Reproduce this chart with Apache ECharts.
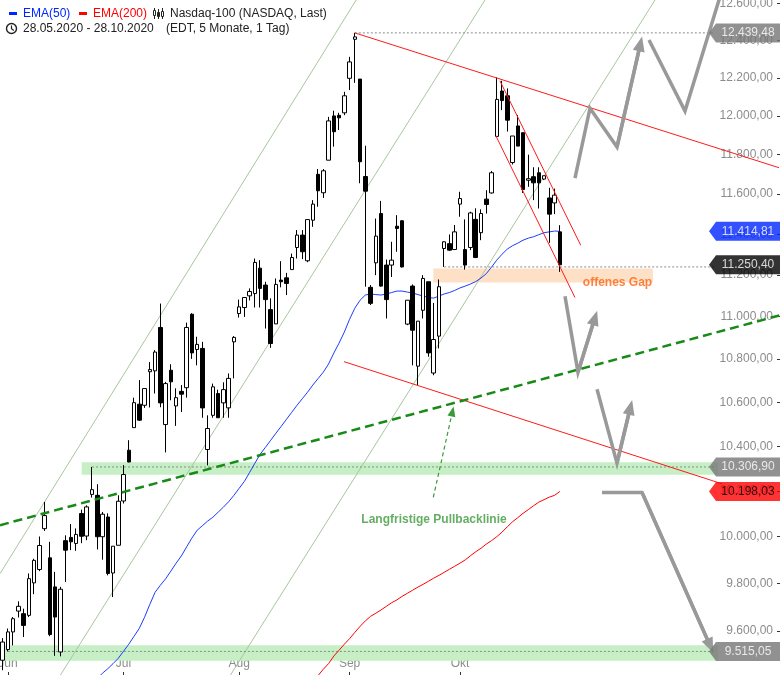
<!DOCTYPE html>
<html><head><meta charset="utf-8">
<script src="https://cdn.jsdelivr.net/npm/echarts@6/dist/echarts.min.js"></script>
<style>html,body{margin:0;padding:0;background:#fff;}#c{width:780px;height:675px;}</style>
</head><body><div id="c"></div>
<script>
// ---------- categories ----------
const startDate = '2020-05-29';
const holidays = ['2020-07-03', '2020-09-07', '2020-11-26', '2020-12-25'];
const totalSlots = 148;
const monthNames = ['Jan','Feb','Mär','Apr','Mai','Jun','Jul','Aug','Sep','Okt','Nov','Dez'];

// ---------- candle values (Nasdaq-100, daily) ----------
const open = [9479,9523,9596,9683,9672,9665,9802,9859,10035,9909,
9785,9513,9983,9997,9971,10101,10003,10185,10181,10000,
10086,9844,9963,10156,10382,10484,10591,10586,10741,10745,
10949,10498,10748,10583,10650,10667,11012,10845,10850,10385,
10540,10640,10597,10574,10881,11015,11044,11100,11111,11234,
11152,11034,10966,11176,11187,11227,11335,11396,11270,11470,
11700,11607,11772,12000,12003,12016,12197,12405,12193,11689,
11141,11260,11503,11249,11249,11440,11467,10965,11147,10767,
11031,11168,10735,10908,11330,11354,11325,11550,11325,11335,
11474,11408,11575,11606,11894,12130,12105,11760,11948,11913,
11670,11688,11708,11676,11581,11556,11412];
const close = [9554,9596,9651,9703,9623,9820,9898,9962,10092,9585,
9658,9775,9942,9978,10010,10002,10130,10206,10000,10098,
9842,9959,10155,10273,10329,10598,10518,10663,10751,10833,
10597,10686,10694,10621,10637,10949,10829,10869,10574,10480,
10671,10529,10658,10710,10902,11047,11092,11121,11262,11136,
11082,10873,11155,11168,11160,11286,11396,11314,11473,11550,
11617,11718,11974,11918,11990,12105,12284,12418,11764,11615,
11064,11391,11147,11082,11273,11429,11240,11079,10936,10979,
11184,10829,10892,11144,11363,11322,11412,11578,11249,11506,
11286,11503,11548,11708,12086,12080,11978,11896,11844,11623,
11678,11657,11657,11693,11500,11595,11250.40];
const high = [9570,9610,9658,9724,9693,9842,9905,10001,10152,9978,
9849,9785,10006,10055,10036,10118,10137,10306.9,10230,10108,
10102,9959,10181,10315,10427,10621,10702,10664,10786,10842,
11063,10694,10776,10664,10679,10972,11017,10905,10881,10540,
10686,10658,10692,10733,10908,11082,11093,11136,11281,11273,
11168,11088,11184,11268,11211,11305,11421,11421,11473,11570,
11727,11727,11995,12027,12016,12126,12311,12439.48,12193,11846,
11152,11478,11566,11276,11363,11495,11470,11079,11155,10979,
11200,11168,11066,11179,11366,11399,11446,11612,11474,11512,
11529,11524,11620,11717,12202,12184,12144,11896,12005,11913,
11800,11736,11736,11693,11632,11628,11445];
const low = [9438,9515.05,9540,9656,9575,9658,9754,9852,10025,9578,
9497,9495,9806,9942,9939,9972,9985,10171,9945,9901,
9834,9742,9963,10145,10328,10484,10515,10574,10576,10640,
10577,10372,10609,10492,10555,10621,10801,10771,10529,10314,
10529,10529,10529,10529,10710,10996,10999,11078,11044,11044,
10944,10853,10966,11141,11104,11227,11281,11278,11263,11437,
11537,11581,11772,11841,11927,12004,12135,12173,11655,11144,
11056,11200,11144,10992,11191,11314,11237,10960,10771,10679,
10992,10811,10725,10850,11240,11318,11325,11487,11227,11322,
11283,11371,11503,11603,11891,12030,11919,11750,11844,11606,
11637,11570,11528,11671,11358,11500,11216];

// ---------- moving averages ----------
const ema50Start = 18;
const ema50 = [9404,9426,9444,9465,9487,9516,9545,9578,9611,9657,9711,9762,9792,9819,9852,9886,9917,9956,9994,10028,
10048,10068,10085,10107,10129,10153,10181,10212,10243,10283,10324,10364,10395,10427,10459,10490,10522,10554,10586,10616,
10646,10679,10709,10739,10777,10828,10875,10927,10988,11041,11079,11104,11109,11106,11104,11109,11116,11123,11123,11118,
11114,11106,11099,11092,11089,11099,11109,11116,11126,11138,11147,11157,11169,11186,11207,11239,11273,11302,11327,11344,
11356,11371,11381,11388,11398,11408,11412,11416,11414.81];
const ema200Start = 60;
const ema200 = [9416,9442,9465,9496,9520,9545,9568,9594,9619,9642,9661,9674,9688,9703,9718,9730,9745,9758,9771,9784,
9796,9809,9822,9834,9847,9860,9873,9886,9900,9918,9935,9950,9968,9983,10000,10020,10043,10065,10083,10102,
10118,10135,10151,10162,10173,10181,10198.03];

// ---------- axis ----------
const yTicks = [9600,9800,10000,10200,10400,10600,10800,11000,11200,11400,11600,11800,12000,12200,12400,12600];
const yMin = 9418.5, yMax = 12618;

// ---------- drawn annotations: [slotIndex, price] ----------
const channelLines = [
  [[-0.5, 9841], [67.26, 12618]],
  [[11.0, 9418.5], [91.76, 12618]],
  [[43.35, 9418.5], [124.1, 12618]]
];
const redLines = [
  [[67, 12439.48], [148, 11731]],
  [[64.94, 10788], [136.85, 10232]],
  [[94.6, 12184], [109.97, 11346]],
  [[93.85, 11896], [108.88, 11092]]
];
const pullbackLine = [[-0.5, 10050], [147.88, 11007]];
const pullbackArrow = [[81.93, 10172], [85.58, 10558]];
const dottedLevels = [
  [67, 135.5, 12439.48],
  [84, 135.5, 11240],
  [17, 135.5, 10306.9],
  [1, 135.5, 9515.05]
];
const greenBands = [
  [15.04, 136.1, 10328, 10272],
  [-0.5, 136.1, 9541, 9477]
];
const gapBand = [81.93, 123.7, 11232, 11164];
const scenarioArrows = [
  [[108.88, 11681], [111.74, 12040], [116.87, 11839], [121.32, 12381]],
  [[106.98, 11098], [109.45, 10739], [112.67, 10995]],
  [[113.07, 10660], [116.87, 10324], [119.42, 10577]],
  [[114.02, 10194], [121.63, 10194], [134.6, 9538]]
];
const scenarioPath = [[122.96, 12401], [129.81, 12025], [136.85, 12672]];
const textNotes = [
  ['Langfristige Pullbacklinie', 82.06, 10072],
  ['offenes Gap', 116.97, 11162]
];
const priceTags = [12439.48, 11414.81, 11250.40, 10306.90, 10198.03, 9515.05];

// ---------- styles ----------
const tagFill = ['#767676', '#0026ff', '#000000', '#767676', '#ff0000', '#767676'];
const tagText = ['#fff', '#fff', '#fff', '#fff', '#000', '#fff'];
const noteColors = ['#3c9a3c', '#ff6410'];
const tagSlot = 141.13;
const FONT = 'Liberation Sans, Arial, sans-serif';

// ---------- helpers ----------
const ln = Math.log;
function fmt(v) {
  const parts = v.toFixed(2).split('.');
  return parts[0].replace(/\B(?=(\d{3})+(?!\d))/g, '.') + ',' + parts[1];
}
function tradingDays(start, n) {
  const out = [];
  const d = new Date(start + 'T12:00:00Z');
  while (out.length < n) {
    const dow = d.getUTCDay();
    const s = d.toISOString().slice(0, 10);
    if (dow !== 0 && dow !== 6 && holidays.indexOf(s) < 0) out.push(s);
    d.setUTCDate(d.getUTCDate() + 1);
  }
  return out;
}
const categories = tradingDays(startDate, totalSlots);
function isMonthStart(i) {
  return i > 0 && i < open.length && categories[i].slice(5, 7) !== categories[i - 1].slice(5, 7);
}
function pad(start, arr) {
  const out = [];
  for (let i = 0; i < totalSlots; i++) {
    const k = i - start;
    out.push(k >= 0 && k < arr.length ? ln(arr[k]) : null);
  }
  return out;
}
function pts(p) { return p.map(q => [q[0], ln(q[1])]); }
function annLine(data, lineStyle, z, extra) {
  return Object.assign({
    type: 'line', xAxisIndex: 1, yAxisIndex: 0, data: pts(data), symbol: 'none',
    silent: true, clip: true, lineStyle: lineStyle, z: z, animation: false
  }, extra || {});
}

const series = [];

// bands
series.push({
  type: 'line', xAxisIndex: 1, data: [], silent: true, z: 1,
  markArea: {
    silent: true,
    data: greenBands.map(b => [
      { coord: [b[0], ln(b[2])], itemStyle: { color: '#c6efc6' } },
      { coord: [b[1], ln(b[3])] }
    ]).concat([[
      { coord: [gapBand[0], ln(gapBand[2])], itemStyle: { color: '#fde0c5' } },
      { coord: [gapBand[1], ln(gapBand[3])] }
    ]])
  }
});

// channel lines
channelLines.forEach(l => series.push(annLine(l, { color: '#a9c6a0', width: 1 }, 2)));
// dotted levels
dottedLevels.forEach(d => series.push(annLine([[d[0], d[2]], [d[1], d[2]]], { color: '#8c8c8c', width: 1, type: [2, 2] }, 2)));

// candles
series.push({
  type: 'candlestick', xAxisIndex: 0, yAxisIndex: 0, z: 4, animation: false, silent: true,
  barWidth: 4,
  data: open.map((o, i) => [ln(o), ln(close[i]), ln(low[i]), ln(high[i])]),
  itemStyle: { color: '#ffffff', color0: '#000000', borderColor: '#000000', borderColor0: '#000000', borderWidth: 1 }
});

// EMA lines
series.push({ type: 'line', xAxisIndex: 0, data: pad(ema50Start, ema50), symbol: 'none', silent: true, z: 3,
  lineStyle: { color: '#1a3cff', width: 1 }, animation: false });
series.push({ type: 'line', xAxisIndex: 0, data: pad(ema200Start, ema200), symbol: 'none', silent: true, z: 3,
  lineStyle: { color: '#ff0000', width: 1 }, animation: false });

// red trend lines
redLines.forEach(l => series.push(annLine(l, { color: '#ff1a1a', width: 1 }, 5)));

// pullback line
series.push(annLine(pullbackLine, { color: '#178a17', width: 2.5, type: [9, 5] }, 5));

// pullback arrow (dashed, thin)
series.push({
  type: 'line', xAxisIndex: 1, data: [], silent: true, z: 5,
  markLine: {
    silent: true, animation: false, symbol: ['none', 'triangle'], symbolSize: [8, 10],
    label: { show: false },
    lineStyle: { color: '#3c9a3c', width: 1.2, type: [4, 3] },
    itemStyle: { color: '#3c9a3c' },
    data: [[{ coord: [pullbackArrow[0][0], ln(pullbackArrow[0][1])] }, { coord: [pullbackArrow[1][0], ln(pullbackArrow[1][1])] }]]
  }
});

// scenario arrows
const grayStyle = { color: '#999999', width: 3.5, join: 'miter', cap: 'butt' };
scenarioArrows.forEach(a => {
  const n = a.length;
  series.push(annLine(a, grayStyle, 6, {
    markLine: {
      silent: true, animation: false, symbol: ['none', 'triangle'], symbolSize: [12, 15],
      label: { show: false }, lineStyle: { color: '#999999', width: 3.5, type: 'solid' },
      itemStyle: { color: '#999999' },
      data: [[{ coord: [a[n - 2][0], ln(a[n - 2][1])] }, { coord: [a[n - 1][0], ln(a[n - 1][1])] }]]
    }
  }));
});
series.push(annLine(scenarioPath, grayStyle, 6));

// text notes
series.push({
  type: 'scatter', xAxisIndex: 1, silent: true, z: 8, animation: false, symbolSize: 1,
  itemStyle: { color: 'transparent' },
  data: textNotes.map((t, i) => ({
    value: [t[1], ln(t[2])],
    label: { show: true, position: 'inside', formatter: t[0], color: noteColors[i], fontWeight: 'bold', fontSize: 12, fontFamily: FONT }
  }))
});

// price tags
series.push({
  type: 'scatter', xAxisIndex: 1, silent: true, z: 10, animation: false, clip: false,
  symbol: 'path://M0,9.5L7,0L71,0L71,19L7,19Z', symbolSize: [71, 19],
  data: priceTags.map((v, i) => ({
    value: [tagSlot, ln(v)],
    itemStyle: { color: tagFill[i] },
    label: { show: true, position: 'inside', offset: [3.5, 0], formatter: fmt(v), color: tagText[i], fontSize: 12, fontFamily: FONT }
  }))
});

const option = {
  animation: false,
  backgroundColor: '#ffffff',
  grid: { left: 0, right: 2, top: 0, bottom: 0, containLabel: false, outerBoundsMode: 'none' },
  xAxis: [{
    type: 'category', data: categories, boundaryGap: true,
    axisLine: { show: false, onZero: false },
    axisTick: { show: true, inside: true, length: 3, alignWithLabel: true, interval: isMonthStart, lineStyle: { color: '#333' } },
    axisLabel: { inside: true, margin: 5, interval: isMonthStart, color: '#8c8c8c', fontSize: 12, fontFamily: FONT,
      formatter: v => monthNames[parseInt(v.slice(5, 7), 10) - 1] },
    splitLine: { show: false }
  }, {
    type: 'value', min: -0.5, max: totalSlots - 0.5, show: false,
    axisLine: { onZero: false }
  }],
  yAxis: {
    type: 'value', position: 'right', offset: 2, min: ln(yMin), max: ln(yMax),
    axisLine: { show: false, onZero: false }, splitLine: { show: false },
    axisTick: { show: true, inside: true, length: 3, customValues: yTicks.map(ln), lineStyle: { color: '#333' } },
    axisLabel: { inside: true, margin: 7, customValues: yTicks.map(ln), color: '#8c8c8c', fontSize: 12, fontFamily: FONT,
      formatter: v => fmt(Math.exp(v)) }
  },
  graphic: [
    { type: 'rect', shape: { x: 9, y: 12, width: 8, height: 3 }, style: { fill: '#0026ff' } },
    { type: 'text', x: 23, y: 13.5, style: { text: 'EMA(50)', fill: '#0026ff', font: '12px ' + FONT, verticalAlign: 'middle' } },
    { type: 'rect', shape: { x: 79, y: 12, width: 8, height: 3 }, style: { fill: '#ff0000' } },
    { type: 'text', x: 93, y: 13.5, style: { text: 'EMA(200)', fill: '#ff0000', font: '12px ' + FONT, verticalAlign: 'middle' } },
    { type: 'line', shape: { x1: 154.5, y1: 8, x2: 154.5, y2: 19 }, style: { stroke: '#222', lineWidth: 1 } },
    { type: 'rect', shape: { x: 153.5, y: 10.5, width: 2, height: 5 }, style: { fill: '#fff', stroke: '#222', lineWidth: 1 } },
    { type: 'line', shape: { x1: 158.5, y1: 9, x2: 158.5, y2: 19 }, style: { stroke: '#222', lineWidth: 1 } },
    { type: 'rect', shape: { x: 157.5, y: 12.5, width: 2, height: 4 }, style: { fill: '#222', stroke: '#222', lineWidth: 1 } },
    { type: 'line', shape: { x1: 162.5, y1: 8, x2: 162.5, y2: 19 }, style: { stroke: '#222', lineWidth: 1 } },
    { type: 'rect', shape: { x: 161.5, y: 11.5, width: 2, height: 5 }, style: { fill: '#fff', stroke: '#222', lineWidth: 1 } },
    { type: 'text', x: 170, y: 13.5, style: { text: 'Nasdaq-100 (NASDAQ, Last)', fill: '#222', font: '12px ' + FONT, verticalAlign: 'middle' } },
    { type: 'circle', shape: { cx: 11.5, cy: 28.5, r: 5 }, style: { fill: 'none', stroke: '#222', lineWidth: 1.4 } },
    { type: 'polyline', shape: { points: [[11.5, 25.5], [11.5, 28.8], [13.8, 30.5]] }, style: { fill: 'none', stroke: '#222', lineWidth: 1.2 } },
    { type: 'text', x: 23, y: 29, style: { text: '28.05.2020 - 28.10.2020', fill: '#222', font: '12px ' + FONT, verticalAlign: 'middle' } },
    { type: 'text', x: 166, y: 29, style: { text: '(EDT, 5 Monate, 1 Tag)', fill: '#222', font: '12px ' + FONT, verticalAlign: 'middle' } }
  ],
  series: series
};

const chart = echarts.init(document.getElementById('c'), null, { renderer: 'canvas', width: 780, height: 675 });
chart.setOption(option);
</script>
</body></html>
